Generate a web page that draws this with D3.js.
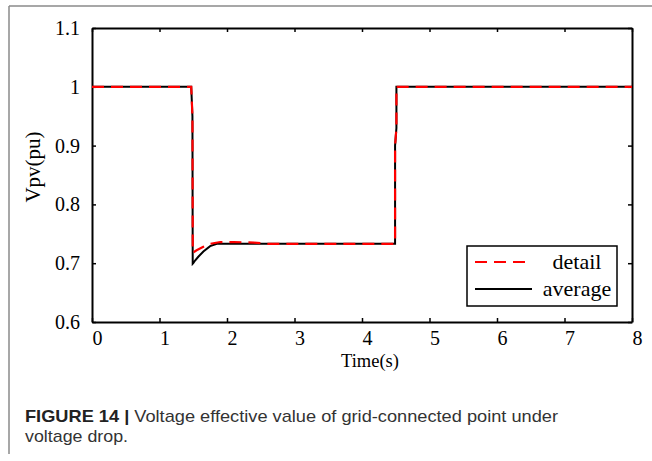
<!DOCTYPE html>
<html>
<head>
<meta charset="utf-8">
<script src="https://cdn.jsdelivr.net/npm/d3@7"></script>
<style>
  body { margin: 0; background: #fff; }
  svg { display: block; }
</style>
</head>
<body>
<svg width="652" height="461"></svg>
<script>
// Data
var timeDetail = [0, 1.47, 1.488, 1.493, 1.51, 1.55, 1.65, 1.75, 1.9, 2.1, 2.4, 2.6, 3, 4, 4.49, 4.49, 4.50, 4.51, 4.51, 6, 8];
var vDetail    = [1, 1, 0.95, 0.718, 0.719, 0.722, 0.728, 0.733, 0.736, 0.736, 0.735, 0.733, 0.733, 0.733, 0.733, 0.90, 0.915, 0.93, 1, 1, 1];

var timeAverage = [0, 1.47, 1.488, 1.492, 1.50, 1.53, 1.575, 1.65, 1.75, 1.85, 2, 3, 4, 4.49, 4.49, 4.50, 4.51, 4.51, 6, 8];
var vAverage    = [1, 1, 0.95, 0.699, 0.700, 0.705, 0.711, 0.720, 0.729, 0.733, 0.733, 0.733, 0.733, 0.733, 0.90, 0.915, 0.93, 1, 1, 1];

var xTicks = [0, 1, 2, 3, 4, 5, 6, 7, 8];
var yTicks = [0.6, 0.7, 0.8, 0.9, 1, 1.1];
var yTickLabels = ["0.6", "0.7", "0.8", "0.9", "1", "1.1"];
var seriesNames = ["detail", "average"];

var svg = d3.select("svg");

// outer figure frame (top and left only are visible)
svg.append("line").attr("x1", 9).attr("y1", 6).attr("x2", 652).attr("y2", 6)
    .attr("stroke", "#8a8a8a").attr("stroke-width", 1.5);
svg.append("line").attr("x1", 9).attr("y1", 6).attr("x2", 9).attr("y2", 454)
    .attr("stroke", "#8a8a8a").attr("stroke-width", 1.5);

var plotLeft = 92, plotRight = 632, plotTop = 28, plotBottom = 322;

var x = d3.scaleLinear().domain([0, 8]).range([plotLeft, plotRight]);
var y = d3.scaleLinear().domain([0.6, 1.1]).range([plotBottom, plotTop]);

var serif = "'Liberation Serif', 'Times New Roman', serif";

// axes, ticks pointing inward
var gx = svg.append("g").attr("transform", "translate(0," + plotBottom + ")")
    .call(d3.axisBottom(x).tickValues(xTicks).tickSize(-4).tickSizeOuter(0).tickPadding(9)
      .tickFormat(function(d){ return String(d) }));
gx.selectAll("text").attr("dx", 5);

var gy = svg.append("g").attr("transform", "translate(" + plotLeft + ",0)")
    .call(d3.axisLeft(y).tickValues(yTicks).tickSize(-4).tickSizeOuter(0).tickPadding(12)
      .tickFormat(function(d, i){ return yTickLabels[i] }));

svg.append("g").attr("transform", "translate(0," + plotTop + ")")
    .call(d3.axisTop(x).tickValues(xTicks).tickSize(-4).tickSizeOuter(0).tickFormat(""));
svg.append("g").attr("transform", "translate(" + plotRight + ",0)")
    .call(d3.axisRight(y).tickValues(yTicks).tickSize(-4).tickSizeOuter(0).tickFormat(""));

svg.selectAll(".domain").attr("stroke", "#000").attr("stroke-width", 2);
svg.selectAll(".tick line").attr("stroke", "#000").attr("stroke-width", 1.5);
svg.selectAll(".tick text").attr("font-family", serif).attr("font-size", 20).attr("fill", "#000");

// axis titles
svg.append("text")
    .attr("x", 370).attr("y", 366.5)
    .attr("text-anchor", "middle")
    .attr("font-family", serif).attr("font-size", 18.5)
    .text("Time(s)");

svg.append("text")
    .attr("transform", "translate(40,167) rotate(-90)")
    .attr("text-anchor", "middle")
    .attr("font-family", serif).attr("font-size", 21)
    .text("Vpv(pu)");

// lines
var line = d3.line()
    .x(function(d){ return x(d[0]) })
    .y(function(d){ return y(d[1]) });

var avgPts = timeAverage.map(function(t, i){ return [t, vAverage[i]] });
var detPts = timeDetail.map(function(t, i){ return [t, vDetail[i]] });

svg.append("path").datum(avgPts)
    .attr("d", line).attr("fill", "none")
    .attr("stroke", "#000").attr("stroke-width", 2);

svg.append("path").datum(detPts)
    .attr("d", line).attr("fill", "none")
    .attr("stroke", "#ff0000").attr("stroke-width", 2.2)
    .attr("stroke-dasharray", "12,7");

// legend
var lg = svg.append("g");
lg.append("rect")
    .attr("x", 467).attr("y", 246).attr("width", 150).attr("height", 60)
    .attr("fill", "#fff").attr("stroke", "#000").attr("stroke-width", 1.5);

var rows = [
  { name: seriesNames[0], color: "#ff0000", dash: "12,7", yy: 262 },
  { name: seriesNames[1], color: "#000", dash: null, yy: 289 }
];
rows.forEach(function(r){
  lg.append("line")
      .attr("x1", 475).attr("x2", 532).attr("y1", r.yy).attr("y2", r.yy)
      .attr("stroke", r.color).attr("stroke-width", r.dash ? 2.2 : 1.8)
      .attr("stroke-dasharray", r.dash);
  lg.append("text")
      .attr("x", 577).attr("y", r.yy + 7)
      .attr("text-anchor", "middle")
      .attr("font-family", serif).attr("font-size", 22)
      .text(r.name);
});

// caption
var cap = svg.append("text")
    .attr("x", 25).attr("y", 421.5)
    .attr("font-family", "'Liberation Sans', Arial, sans-serif").attr("font-size", 17)
    .attr("fill", "#333")
    .attr("textLength", 533).attr("lengthAdjust", "spacingAndGlyphs");
cap.append("tspan").attr("font-weight", "bold").attr("fill", "#222").text("FIGURE 14 | ");
cap.append("tspan").text("Voltage effective value of grid-connected point under");

svg.append("text")
    .attr("x", 25).attr("y", 441.5)
    .attr("font-family", "'Liberation Sans', Arial, sans-serif").attr("font-size", 17)
    .attr("fill", "#333")
    .attr("textLength", 103).attr("lengthAdjust", "spacingAndGlyphs")
    .text("voltage drop.");
</script>
</body>
</html>
